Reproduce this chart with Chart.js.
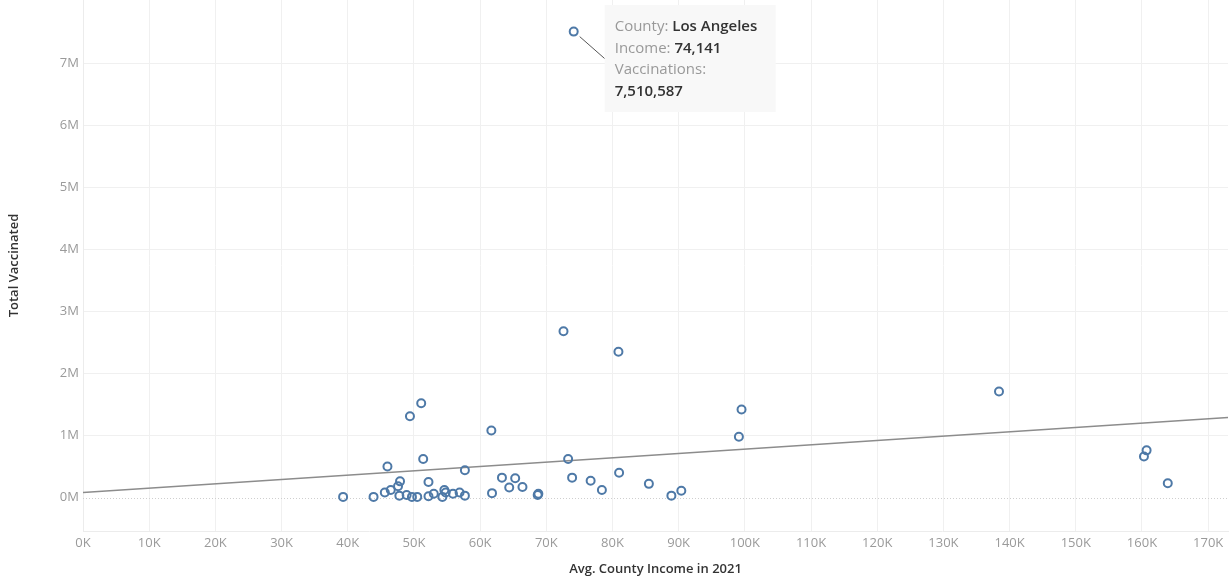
<!DOCTYPE html>
<html>
<head>
<meta charset="utf-8">
<script src="https://cdn.jsdelivr.net/npm/chart.js@4"></script>
<style>
  html, body { margin: 0; padding: 0; background: #fff; }
  #wrap { width: 1231px; height: 577px; }
</style>
</head>
<body>
<div id="wrap"><canvas id="incomeChart"></canvas></div>
<script>
// avg county income vs total vaccinated (first entry = Los Angeles)
const incomes = [74141, 72600, 80900, 138400, 99500, 99100, 160700, 160300, 163900, 51100, 49400, 61700,
  39300, 43900, 45600, 46000, 46500, 47600, 47900, 47800, 48900, 49700, 50500, 51400, 52200, 52200,
  53000, 54300, 54600, 54800, 55900, 56900, 57700, 57700, 61800, 63300, 64400, 65300, 66400, 68700, 68800,
  73300, 73900, 76700, 78400, 81000, 85500, 88900, 90400];
const vaccinated = [7510587, 2680000, 2350000, 1710000, 1420000, 980000, 760000, 660000, 230000, 1520000, 1310000, 1080000,
  10000, 10000, 80000, 500000, 120000, 180000, 260000, 30000, 40000, 10000, 10000, 620000, 250000, 20000,
  60000, 10000, 120000, 80000, 60000, 80000, 440000, 30000, 70000, 320000, 160000, 310000, 170000, 40000, 60000,
  620000, 320000, 270000, 120000, 400000, 220000, 30000, 110000];

// trend line end points
const trendX = [0, 173000];
const trendY = [80000, 1291000];

const xTicks = [0, 10000, 20000, 30000, 40000, 50000, 60000, 70000, 80000, 90000, 100000,
  110000, 120000, 130000, 140000, 150000, 160000, 170000];
const yTicks = [0, 1000000, 2000000, 3000000, 4000000, 5000000, 6000000, 7000000];

const highlightCounty = "Los Angeles";
const highlightIndex = 0;

Chart.defaults.font.family = "'Open Sans', sans-serif";

const gridColor = "#f0f0f0";
const tickColor = "#9a9a9a";

// dotted zero line
const zeroLine = {
  id: "zeroLine",
  beforeDatasetsDraw(chart) {
    const { ctx, chartArea, scales } = chart;
    const y = Math.round(scales.y.getPixelForValue(0)) + 0.5;
    ctx.save();
    ctx.strokeStyle = "#cfcfcf";
    ctx.lineWidth = 1;
    ctx.setLineDash([1, 2]);
    ctx.beginPath();
    ctx.moveTo(chartArea.left, y);
    ctx.lineTo(chartArea.right, y);
    ctx.stroke();
    ctx.restore();
  }
};

// static tooltip for the highlighted point
const pinnedTip = {
  id: "pinnedTip",
  afterDraw(chart) {
    const pt = chart.getDatasetMeta(1).data[highlightIndex];
    if (!pt) return;
    const ctx = chart.ctx;
    const bx = pt.x + 31, by = 5, bw = 171, bh = 107;
    ctx.save();
    ctx.strokeStyle = "#555";
    ctx.lineWidth = 1;
    ctx.beginPath();
    ctx.moveTo(pt.x + 6, pt.y + 5);
    ctx.lineTo(bx, pt.y + 27);
    ctx.stroke();

    ctx.fillStyle = "#f8f8f8";
    ctx.fillRect(bx, by, bw, bh);

    const fmt = n => n.toLocaleString("en-US");
    const lines = [
      [["County: ", false], [highlightCounty, true]],
      [["Income: ", false], [fmt(incomes[highlightIndex]), true]],
      [["Vaccinations:", false]],
      [[fmt(vaccinated[highlightIndex]), true]]
    ];
    ctx.textBaseline = "middle";
    lines.forEach((parts, i) => {
      let x = bx + 10;
      const y = by + 22 + i * 21.5;
      parts.forEach(([txt, bold]) => {
        ctx.font = (bold ? "600 " : "") + "15px 'Open Sans', sans-serif";
        ctx.fillStyle = bold ? "#333" : "#999";
        ctx.fillText(txt, x, y);
        x += ctx.measureText(txt).width;
      });
    });
    ctx.restore();
  }
};

new Chart(document.getElementById("incomeChart"), {
  type: "scatter",
  data: {
    datasets: [
      {
        type: "line",
        data: trendX.map((x, i) => ({ x: x, y: trendY[i] })),
        borderColor: "#8c8c8c",
        borderWidth: 1.5,
        pointRadius: 0,
        showLine: true,
        order: 2
      },
      {
        data: incomes.map((x, i) => ({ x: x, y: vaccinated[i] })),
        pointRadius: 4,
        pointBorderWidth: 2,
        borderColor: "#4e79a7",
        backgroundColor: "rgba(255,255,255,0)",
        order: 1
      }
    ]
  },
  options: {
    responsive: true,
    maintainAspectRatio: false,
    animation: false,
    layout: { autoPadding: false, padding: { top: 0, right: 3, left: 0, bottom: 0 } },
    plugins: {
      legend: { display: false },
      tooltip: { enabled: false }
    },
    scales: {
      x: {
        type: "linear",
        min: 0,
        max: 173000,
        afterBuildTicks: s => { s.ticks = xTicks.map(v => ({ value: v })); },
        afterFit: s => { s.height = 46; s.paddingRight = 0; s.paddingLeft = 0; },
        ticks: {
          color: tickColor,
          font: { size: 13 },
          padding: 4,
          maxRotation: 0,
          autoSkip: false,
          callback: v => (v / 1000) + "K"
        },
        grid: { color: gridColor, drawTicks: false },
        border: { color: "#ececec" },
        title: {
          display: true,
          text: "Avg. County Income in 2021",
          color: "#333",
          font: { size: 13, weight: "600" },
          padding: { top: 1, bottom: 0 }
        }
      },
      y: {
        min: -540000,
        max: 8020000,
        afterBuildTicks: s => { s.ticks = yTicks.map(v => ({ value: v })); },
        afterFit: s => { s.width = 83; s.paddingTop = 0; s.paddingBottom = 0; },
        ticks: {
          color: tickColor,
          font: { size: 13 },
          padding: 4,
          callback: v => (v / 1000000) + "M"
        },
        grid: {
          color: c => (c.tick && c.tick.value === 0) ? "rgba(0,0,0,0)" : gridColor,
          drawTicks: false
        },
        border: { color: "#ececec" },
        title: {
          display: true,
          text: "Total Vaccinated",
          color: "#333",
          font: { size: 13, weight: "600" },
          padding: { top: 6, bottom: 0 }
        }
      }
    }
  },
  plugins: [zeroLine, pinnedTip]
});
</script>
</body>
</html>
